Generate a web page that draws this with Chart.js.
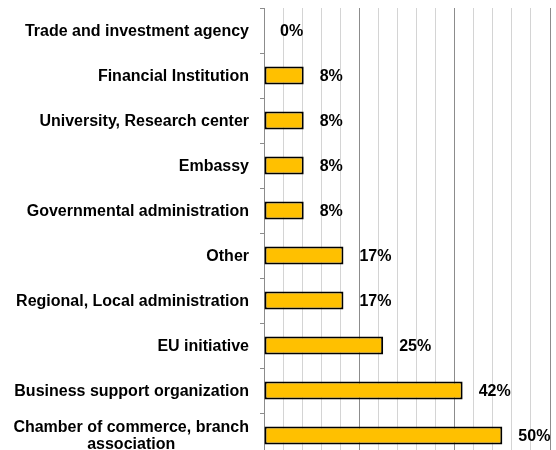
<!DOCTYPE html>
<html>
<head>
<meta charset="utf-8">
<script src="https://cdn.jsdelivr.net/npm/chart.js@4/dist/chart.umd.min.js"></script>
<style>
  html, body { margin: 0; padding: 0; background: #fff; overflow: hidden; }
  #wrap { width: 556px; height: 460px; }
</style>
</head>
<body>
<div id="wrap"><canvas id="chart" width="556" height="460"></canvas></div>
<script>
// Categories, top to bottom
const categories = [
  "Trade and investment agency",
  "Financial Institution",
  "University, Research center",
  "Embassy",
  "Governmental administration",
  "Other",
  "Regional, Local administration",
  "EU initiative",
  "Business support organization",
  ["Chamber of commerce, branch", "association"]
];
// Share of respondents (%)
const shares = [0, 8.33, 8.33, 8.33, 8.33, 16.67, 16.67, 25, 41.67, 50];
const xMin = 0;
const xMax = 60;
const xStep = 4;

const labelFont = 'bold 16px "Liberation Sans", Arial, sans-serif';

// category names: right aligned block, multi-line text centred within the block
const categoryLabels = {
  id: 'categoryLabels',
  afterDraw(chart) {
    const ctx = chart.ctx;
    const y = chart.scales.y;
    ctx.save();
    ctx.font = labelFont;
    ctx.fillStyle = '#000';
    ctx.textBaseline = 'middle';
    ctx.textAlign = 'center';
    const lineH = 17;
    categories.forEach((lab, i) => {
      const lines = Array.isArray(lab) ? lab : [lab];
      const w = Math.max(...lines.map(l => ctx.measureText(l).width));
      const cx = y.right - 15 - w / 2;
      const cy = y.getPixelForTick(i) + 1;
      lines.forEach((l, k) => {
        ctx.fillText(l, cx, cy + (k - (lines.length - 1) / 2) * lineH);
      });
    });
    ctx.restore();
  }
};

// value labels next to each bar
const valueLabels = {
  id: 'valueLabels',
  afterDatasetsDraw(chart) {
    const ctx = chart.ctx;
    const meta = chart.getDatasetMeta(0);
    ctx.save();
    ctx.font = labelFont;
    ctx.fillStyle = '#000';
    ctx.textAlign = 'left';
    ctx.textBaseline = 'middle';
    meta.data.forEach((bar, i) => {
      ctx.fillText(Math.round(shares[i]) + '%', bar.x + 16, bar.y + 1);
    });
    ctx.restore();
  }
};

new Chart(document.getElementById('chart').getContext('2d'), {
  type: 'bar',
  data: {
    labels: categories,
    datasets: [{
      data: shares,
      backgroundColor: '#FFC000',
      borderColor: '#000',
      borderWidth: 2,
      borderSkipped: false,
      barPercentage: 0.4,
      categoryPercentage: 1
    }]
  },
  options: {
    indexAxis: 'y',
    responsive: false,
    animation: false,
    layout: { padding: { top: 8, right: 6, bottom: 2, left: 0 } },
    plugins: {
      legend: { display: false },
      tooltip: { enabled: false }
    },
    scales: {
      x: {
        min: xMin,
        max: xMax,
        ticks: { display: false, stepSize: xStep },
        border: { display: false },
        grid: {
          drawTicks: false,
          color: ctx => (ctx.tick && ctx.tick.value % 20 === 0) ? '#8c8c8c' : '#d4d4d4'
        },
        afterFit: s => { s.height = 0; }
      },
      y: {
        ticks: { display: false },
        border: { display: true, color: '#8c8c8c', width: 1 },
        grid: {
          offset: true,
          drawOnChartArea: false,
          drawTicks: true,
          tickLength: 4,
          color: '#8c8c8c'
        },
        afterFit: s => { s.width = 264; }
      }
    }
  },
  plugins: [categoryLabels, valueLabels]
});
</script>
</body>
</html>
